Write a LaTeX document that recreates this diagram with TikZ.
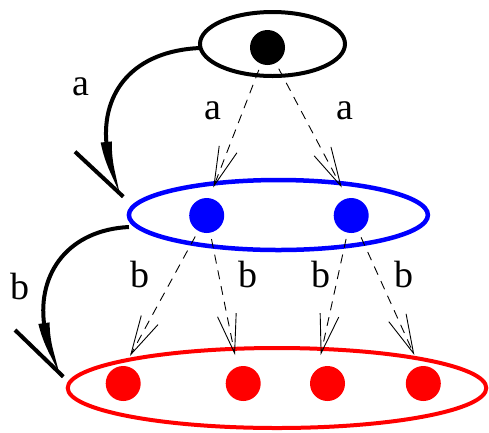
\documentclass[tikz,border=0pt]{standalone}
\usepackage{fontspec}
\setmainfont{Liberation Serif}
\usetikzlibrary{shapes.geometric,arrows.meta,bending}
\begin{document}
\begin{tikzpicture}[x=1pt,y=-1pt,
  set/.style={ellipse, draw, line width=4pt, inner sep=0pt, outer sep=0pt},
  elem/.style={circle, inner sep=0pt, outer sep=0pt, minimum size=35pt},
  lbl/.style={inner sep=0pt, font=\fontsize{38}{40}\selectfont},
  dasharrow/.style={draw, line width=0.9pt, dash pattern=on 9pt off 7pt, shorten <=24pt,
    -{Straight Barb[length=39pt,width=19pt,line width=0.9pt]}},
  bigarrow/.style={line width=4pt, -{Triangle[length=62pt,width=10pt,bend]}},
  barbline/.style={line width=4pt}
]
\useasboundingbox (0,0) rectangle (489,432);

% sets
\node[set, minimum width=145pt, minimum height=64pt] (top) at (272.5,44) {};
\node[set, draw=blue, line width=4.5pt, minimum width=299pt, minimum height=70pt] (mid) at (278.4,215) {};
\node[set, draw=red, minimum width=418.6pt, minimum height=80pt] (bot) at (277,388) {};

% elements
\node[elem, fill=black] (t1) at (267.5,47.5) {};
\node[elem, fill=blue] (m1) at (206.7,215.5) {};
\node[elem, fill=blue] (m2) at (351.2,215.5) {};
\node[elem, fill=red] (r1) at (123.2,383.5) {};
\node[elem, fill=red] (r2) at (243.2,383.5) {};
\node[elem, fill=red] (r3) at (327.5,383.5) {};
\node[elem, fill=red] (r4) at (423.3,383.5) {};

% arrow tips on the set borders
\coordinate (ta1) at (213.3,187.5);
\coordinate (ta2) at (341.7,187.5);
\coordinate (tb1) at (130,356);
\coordinate (tb2) at (235,355);
\coordinate (tb3) at (320.7,355);
\coordinate (tb4) at (414.3,355);

\draw[dasharrow] (t1.center) -- (ta1);
\draw[dasharrow] (t1.center) -- (ta2);
\draw[dasharrow] (m1.center) -- (tb1);
\draw[dasharrow] (m1.center) -- (tb2);
\draw[dasharrow] (m2.center) -- (tb3);
\draw[dasharrow] (m2.center) -- (tb4);

% big curved arrows
\coordinate (tipA) at (123.3,196.7);
\coordinate (barbA) at (75,151.7);
\coordinate (tipB) at (63.3,376.7);
\coordinate (barbB) at (15,330);

\draw[bigarrow] ([yshift=-4pt]top.west) .. controls (110,52) and (85,125) .. (tipA);
\draw[barbline] (tipA) -- (barbA);
\draw[bigarrow] ([yshift=-12pt]mid.west) .. controls (49,231) and (20,305) .. (tipB);
\draw[barbline] (tipB) -- (barbB);

% labels
\node[lbl] (la) at (80.5,86.5) {a};
\node[lbl] (lb) at (19.5,286) {b};
\node[lbl] (la1) at (212.5,110.5) {a};
\node[lbl] (la2) at (344.5,110.5) {a};
\node[lbl] (lb1) at (140,274.5) {b};
\node[lbl] (lb2) at (248,274.5) {b};
\node[lbl] (lb3) at (320.5,274.5) {b};
\node[lbl] (lb4) at (404,274.5) {b};
\end{tikzpicture}
\end{document}
